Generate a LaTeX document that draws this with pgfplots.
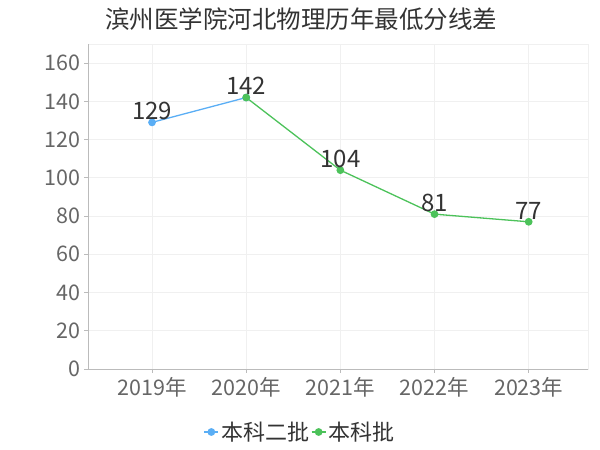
\documentclass[border=0pt]{standalone}
\usepackage{pgfplots}
\pgfplotsset{compat=1.18}
\usepackage{fontspec}
\setmainfont{Noto Sans CJK SC}
\definecolor{cblue}{HTML}{5AAEF5}
\definecolor{cgreen}{HTML}{4CC25A}
\definecolor{tickc}{HTML}{666666}
\definecolor{labc}{HTML}{333333}
\definecolor{gridc}{HTML}{F0F0F0}
\definecolor{axc}{HTML}{BBBBBB}
\begin{document}
\begin{tikzpicture}[x=1pt,y=1pt]
\path[use as bounding box] (0,0) rectangle (600,450);
\node[font=\fontsize{24.5}{24.5}\selectfont, text=labc] at (301,431) {滨州医学院河北物理历年最低分线差};
\begin{axis}[
  at={(88pt,81pt)}, anchor=south west, scale only axis,
  width=500pt, height=325pt,
  xmin=-0.68, xmax=4.63, ymin=0, ymax=170,
  xtick={0,1,2,3,4},
  xticklabels={2019年,2020年,2021年,2022年,2023年},
  ytick={0,20,40,60,80,100,120,140,160},
  /pgf/number format/assume math mode=true,
  ticklabel style={font=\fontsize{21.5}{21.5}\selectfont, text=tickc},
  xtick pos=bottom, ytick pos=left, tick align=outside,
  major tick length=4pt,
  tick style={axc, line width=0.8pt},
  axis line style={gridc},
  grid=major, grid style={gridc, line width=0.8pt},
  xticklabel style={yshift=-1pt},
  yticklabel style={xshift=0pt},
  legend style={at={(0.5,0)}, anchor=center, xshift=-38pt, yshift=-63pt, draw=none, fill=none,
    legend columns=2, font=\fontsize{22}{22}\selectfont, text=labc,
    /tikz/every even column/.style={column sep=0pt}, inner sep=0pt},
  legend image code/.code={\draw[mark repeat=2,mark phase=2,#1] plot coordinates {(0pt,0pt) (7pt,0pt) (14pt,0pt)};},
  every node near coord/.append style={font=\fontsize{24}{24}\selectfont, text=labc, anchor=south, inner sep=0pt, yshift=2pt},
  clip=false,
]
\draw[axc, line width=0.8pt] (rel axis cs:0,0) -- (rel axis cs:0,1);
\draw[axc, line width=0.8pt] (rel axis cs:0,0) -- (rel axis cs:1,0);
\addplot[cblue, line width=1.3pt, mark=*, mark size=3.2pt, mark options={fill=cblue, draw=cblue},
  nodes near coords, point meta=explicit symbolic] coordinates {(0,129)[129] (1,142)[]};
\addlegendentry{本科二批}
\addplot[cgreen, line width=1.3pt, mark=*, mark size=3.2pt, mark options={fill=cgreen, draw=cgreen},
  nodes near coords] coordinates {(1,142) (2,104) (3,81) (4,77)};
\addlegendentry{本科批}
\end{axis}
\end{tikzpicture}
\end{document}
